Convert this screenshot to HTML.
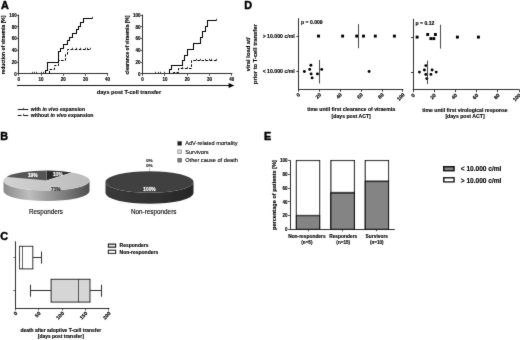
<!DOCTYPE html>
<html><head><meta charset="utf-8"><title>figure</title>
<style>
html,body{margin:0;padding:0;background:#fff;}
body{width:520px;height:340px;overflow:hidden;}
svg{display:block;font-family:"Liberation Sans",sans-serif;}
.b{font-weight:bold;}
</style></head><body>
<svg width="520" height="340" viewBox="0 0 520 340">
<defs>
<filter id="bl" x="-5%" y="-5%" width="110%" height="110%"><feConvolveMatrix order="3" kernelMatrix="0.015 0.060 0.015 0.060 0.700 0.060 0.015 0.060 0.015" divisor="1" edgeMode="duplicate" preserveAlpha="false"/></filter>
<linearGradient id="g1" x1="0" x2="1" y1="0" y2="0"><stop offset="0" stop-color="#8a8a8a"/><stop offset="0.3" stop-color="#bebebe"/><stop offset="0.6" stop-color="#8e8e8e"/><stop offset="0.85" stop-color="#666"/><stop offset="1" stop-color="#4e4e4e"/></linearGradient>
<linearGradient id="g3" x1="0" x2="1" y1="0" y2="0"><stop offset="0" stop-color="#d2d2d2"/><stop offset="1" stop-color="#bcbcbc"/></linearGradient>
<linearGradient id="g2" x1="0" x2="1" y1="0" y2="0"><stop offset="0" stop-color="#3a3a3a"/><stop offset="0.5" stop-color="#333"/><stop offset="1" stop-color="#262626"/></linearGradient>
</defs>
<rect width="520" height="340" fill="#fff"/>
<g filter="url(#bl)">

<text x="0.9" y="8.9" font-size="10.8" text-anchor="start" font-weight="bold" stroke="#000" stroke-width="0.45" fill="#000" >A</text>
<line x1="18.50" y1="14.60" x2="18.50" y2="74.30" stroke="#1c1c1c" stroke-width="0.9" />
<line x1="18.40" y1="73.50" x2="108.10" y2="73.50" stroke="#1c1c1c" stroke-width="0.9" />
<line x1="16.80" y1="73.50" x2="18.80" y2="73.50" stroke="#1c1c1c" stroke-width="0.7" />
<text x="16.8" y="75.60000000000001" font-size="4.5" text-anchor="end" font-weight="bold" stroke="#000" stroke-width="0.13" fill="#000" >0</text>
<line x1="16.80" y1="62.50" x2="18.80" y2="62.50" stroke="#1c1c1c" stroke-width="0.7" />
<text x="16.8" y="63.84000000000001" font-size="4.5" text-anchor="end" font-weight="bold" stroke="#000" stroke-width="0.13" fill="#000" >20</text>
<line x1="16.80" y1="50.50" x2="18.80" y2="50.50" stroke="#1c1c1c" stroke-width="0.7" />
<text x="16.8" y="52.08000000000001" font-size="4.5" text-anchor="end" font-weight="bold" stroke="#000" stroke-width="0.13" fill="#000" >40</text>
<line x1="16.80" y1="38.50" x2="18.80" y2="38.50" stroke="#1c1c1c" stroke-width="0.7" />
<text x="16.8" y="40.32000000000001" font-size="4.5" text-anchor="end" font-weight="bold" stroke="#000" stroke-width="0.13" fill="#000" >60</text>
<line x1="16.80" y1="26.50" x2="18.80" y2="26.50" stroke="#1c1c1c" stroke-width="0.7" />
<text x="16.8" y="28.560000000000006" font-size="4.5" text-anchor="end" font-weight="bold" stroke="#000" stroke-width="0.13" fill="#000" >80</text>
<line x1="16.80" y1="15.50" x2="18.80" y2="15.50" stroke="#1c1c1c" stroke-width="0.7" />
<text x="16.8" y="16.800000000000008" font-size="4.5" text-anchor="end" font-weight="bold" stroke="#000" stroke-width="0.13" fill="#000" >100</text>
<line x1="18.50" y1="73.90" x2="18.50" y2="75.90" stroke="#1c1c1c" stroke-width="0.7" />
<text x="18.8" y="80.9" font-size="4.5" text-anchor="middle" font-weight="bold" stroke="#000" stroke-width="0.13" fill="#000" >0</text>
<line x1="41.50" y1="73.90" x2="41.50" y2="75.90" stroke="#1c1c1c" stroke-width="0.7" />
<text x="41.0" y="80.9" font-size="4.5" text-anchor="middle" font-weight="bold" stroke="#000" stroke-width="0.13" fill="#000" >10</text>
<line x1="63.50" y1="73.90" x2="63.50" y2="75.90" stroke="#1c1c1c" stroke-width="0.7" />
<text x="63.2" y="80.9" font-size="4.5" text-anchor="middle" font-weight="bold" stroke="#000" stroke-width="0.13" fill="#000" >20</text>
<line x1="85.50" y1="73.90" x2="85.50" y2="75.90" stroke="#1c1c1c" stroke-width="0.7" />
<text x="85.4" y="80.9" font-size="4.5" text-anchor="middle" font-weight="bold" stroke="#000" stroke-width="0.13" fill="#000" >30</text>
<line x1="107.50" y1="73.90" x2="107.50" y2="75.90" stroke="#1c1c1c" stroke-width="0.7" />
<text x="107.60000000000001" y="80.9" font-size="4.5" text-anchor="middle" font-weight="bold" stroke="#000" stroke-width="0.13" fill="#000" >40</text>
<text x="4.9" y="45" font-size="4.92" text-anchor="middle" font-weight="bold" stroke="#000" stroke-width="0.13" transform="rotate(-90 4.9 45)" fill="#000" >reduction of viraemia [%]</text>
<path d="M49.50,73.50 H49.50 V69.50 H54.50 V65.50 H58.50 V60.50 H65.50 V54.50 H67.50 V49.50 H90.50 V49.50" fill="none" stroke="#000" stroke-width="1.0" stroke-dasharray="2.6 1.5"/>
<path d="M45.50,73.50 H45.50 V70.50 H47.50 V62.50 H58.50 V51.50 H60.50 V48.50 H63.50 V44.50 H67.50 V40.50 H69.50 V37.50 H72.50 V33.50 H76.50 V29.50 H78.50 V26.50 H80.50 V22.50 H83.50 V18.50 H92.50 V18.50" fill="none" stroke="#000" stroke-width="1.05"/>
<line x1="32.50" y1="71.80" x2="32.50" y2="73.50" stroke="#1c1c1c" stroke-width="0.8" />
<line x1="34.50" y1="71.80" x2="34.50" y2="73.50" stroke="#1c1c1c" stroke-width="0.8" />
<line x1="36.50" y1="71.80" x2="36.50" y2="73.50" stroke="#1c1c1c" stroke-width="0.8" />
<line x1="41.50" y1="71.80" x2="41.50" y2="73.50" stroke="#1c1c1c" stroke-width="0.8" />
<line x1="43.50" y1="71.80" x2="43.50" y2="73.50" stroke="#1c1c1c" stroke-width="0.8" />
<line x1="92.50" y1="16.80" x2="92.50" y2="18.50" stroke="#1c1c1c" stroke-width="0.8" />
<line x1="72.50" y1="47.80" x2="72.50" y2="49.50" stroke="#1c1c1c" stroke-width="0.8" />
<line x1="76.50" y1="47.80" x2="76.50" y2="49.50" stroke="#1c1c1c" stroke-width="0.8" />
<line x1="80.50" y1="47.80" x2="80.50" y2="49.50" stroke="#1c1c1c" stroke-width="0.8" />
<line x1="85.50" y1="47.80" x2="85.50" y2="49.50" stroke="#1c1c1c" stroke-width="0.8" />
<line x1="87.50" y1="47.80" x2="87.50" y2="49.50" stroke="#1c1c1c" stroke-width="0.8" />
<line x1="90.50" y1="47.80" x2="90.50" y2="49.50" stroke="#1c1c1c" stroke-width="0.8" />
<line x1="142.50" y1="14.60" x2="142.50" y2="74.30" stroke="#1c1c1c" stroke-width="0.9" />
<line x1="142.20" y1="73.50" x2="232.30" y2="73.50" stroke="#1c1c1c" stroke-width="0.9" />
<line x1="140.60" y1="73.50" x2="142.60" y2="73.50" stroke="#1c1c1c" stroke-width="0.7" />
<text x="140.6" y="75.60000000000001" font-size="4.5" text-anchor="end" font-weight="bold" stroke="#000" stroke-width="0.13" fill="#000" >0</text>
<line x1="140.60" y1="62.50" x2="142.60" y2="62.50" stroke="#1c1c1c" stroke-width="0.7" />
<text x="140.6" y="63.84000000000001" font-size="4.5" text-anchor="end" font-weight="bold" stroke="#000" stroke-width="0.13" fill="#000" >20</text>
<line x1="140.60" y1="50.50" x2="142.60" y2="50.50" stroke="#1c1c1c" stroke-width="0.7" />
<text x="140.6" y="52.08000000000001" font-size="4.5" text-anchor="end" font-weight="bold" stroke="#000" stroke-width="0.13" fill="#000" >40</text>
<line x1="140.60" y1="38.50" x2="142.60" y2="38.50" stroke="#1c1c1c" stroke-width="0.7" />
<text x="140.6" y="40.32000000000001" font-size="4.5" text-anchor="end" font-weight="bold" stroke="#000" stroke-width="0.13" fill="#000" >60</text>
<line x1="140.60" y1="26.50" x2="142.60" y2="26.50" stroke="#1c1c1c" stroke-width="0.7" />
<text x="140.6" y="28.560000000000006" font-size="4.5" text-anchor="end" font-weight="bold" stroke="#000" stroke-width="0.13" fill="#000" >80</text>
<line x1="140.60" y1="15.50" x2="142.60" y2="15.50" stroke="#1c1c1c" stroke-width="0.7" />
<text x="140.6" y="16.800000000000008" font-size="4.5" text-anchor="end" font-weight="bold" stroke="#000" stroke-width="0.13" fill="#000" >100</text>
<line x1="142.50" y1="73.90" x2="142.50" y2="75.90" stroke="#1c1c1c" stroke-width="0.7" />
<text x="142.6" y="80.9" font-size="4.5" text-anchor="middle" font-weight="bold" stroke="#000" stroke-width="0.13" fill="#000" >0</text>
<line x1="164.50" y1="73.90" x2="164.50" y2="75.90" stroke="#1c1c1c" stroke-width="0.7" />
<text x="164.9" y="80.9" font-size="4.5" text-anchor="middle" font-weight="bold" stroke="#000" stroke-width="0.13" fill="#000" >10</text>
<line x1="187.50" y1="73.90" x2="187.50" y2="75.90" stroke="#1c1c1c" stroke-width="0.7" />
<text x="187.2" y="80.9" font-size="4.5" text-anchor="middle" font-weight="bold" stroke="#000" stroke-width="0.13" fill="#000" >20</text>
<line x1="209.50" y1="73.90" x2="209.50" y2="75.90" stroke="#1c1c1c" stroke-width="0.7" />
<text x="209.5" y="80.9" font-size="4.5" text-anchor="middle" font-weight="bold" stroke="#000" stroke-width="0.13" fill="#000" >30</text>
<line x1="231.50" y1="73.90" x2="231.50" y2="75.90" stroke="#1c1c1c" stroke-width="0.7" />
<text x="231.8" y="80.9" font-size="4.5" text-anchor="middle" font-weight="bold" stroke="#000" stroke-width="0.13" fill="#000" >40</text>
<text x="128.5" y="45" font-size="4.92" text-anchor="middle" font-weight="bold" stroke="#000" stroke-width="0.13" transform="rotate(-90 128.5 45)" fill="#000" >clearance of viraemia [%]</text>
<path d="M173.50,73.50 H173.50 V72.50 H178.50 V68.50 H191.50 V60.50 H216.50 V60.50" fill="none" stroke="#000" stroke-width="1.0" stroke-dasharray="2.6 1.5"/>
<path d="M169.50,73.50 H169.50 V69.50 H171.50 V65.50 H182.50 V60.50 H184.50 V55.50 H187.50 V49.50 H193.50 V43.50 H200.50 V37.50 H202.50 V31.50 H205.50 V26.50 H207.50 V20.50 H216.50 V20.50" fill="none" stroke="#000" stroke-width="1.05"/>
<line x1="155.50" y1="71.80" x2="155.50" y2="73.50" stroke="#1c1c1c" stroke-width="0.8" />
<line x1="158.50" y1="71.80" x2="158.50" y2="73.50" stroke="#1c1c1c" stroke-width="0.8" />
<line x1="160.50" y1="71.80" x2="160.50" y2="73.50" stroke="#1c1c1c" stroke-width="0.8" />
<line x1="164.50" y1="71.80" x2="164.50" y2="73.50" stroke="#1c1c1c" stroke-width="0.8" />
<line x1="216.50" y1="18.80" x2="216.50" y2="20.50" stroke="#1c1c1c" stroke-width="0.8" />
<line x1="182.50" y1="66.80" x2="182.50" y2="68.50" stroke="#1c1c1c" stroke-width="0.8" />
<line x1="187.50" y1="66.80" x2="187.50" y2="68.50" stroke="#1c1c1c" stroke-width="0.8" />
<line x1="196.50" y1="58.80" x2="196.50" y2="60.50" stroke="#1c1c1c" stroke-width="0.8" />
<line x1="200.50" y1="58.80" x2="200.50" y2="60.50" stroke="#1c1c1c" stroke-width="0.8" />
<line x1="205.50" y1="58.80" x2="205.50" y2="60.50" stroke="#1c1c1c" stroke-width="0.8" />
<line x1="209.50" y1="58.80" x2="209.50" y2="60.50" stroke="#1c1c1c" stroke-width="0.8" />
<line x1="211.50" y1="58.80" x2="211.50" y2="60.50" stroke="#1c1c1c" stroke-width="0.8" />
<line x1="216.50" y1="58.80" x2="216.50" y2="60.50" stroke="#1c1c1c" stroke-width="0.8" />
<line x1="17.00" y1="85.50" x2="230.00" y2="85.50" stroke="#1c1c1c" stroke-width="1.0" />
<path d="M228.6,83.1 L234.3,85.5 L228.6,87.9 Z" fill="#000"/>
<text x="129" y="94.2" font-size="5.6" text-anchor="middle" font-weight="bold" stroke="#000" stroke-width="0.13" fill="#000" >days post T-cell transfer</text>
<line x1="17.70" y1="109.50" x2="28.30" y2="109.50" stroke="#1c1c1c" stroke-width="1.0" />
<line x1="23.50" y1="107.90" x2="23.50" y2="109.50" stroke="#1c1c1c" stroke-width="0.7" />
<line x1="17.70" y1="115.50" x2="21.60" y2="115.50" stroke="#1c1c1c" stroke-width="1.0" />
<line x1="23.30" y1="115.50" x2="28.30" y2="115.50" stroke="#1c1c1c" stroke-width="1.0" />
<line x1="23.50" y1="113.80" x2="23.50" y2="115.40" stroke="#1c1c1c" stroke-width="0.7" />
<text x="30.8" y="111.1" font-size="5.08" text-anchor="start" font-weight="bold" stroke="#000" stroke-width="0.13" fill="#000" >with <tspan font-style="italic">in vivo</tspan> expansion</text>
<text x="30.8" y="117.0" font-size="5.14" text-anchor="start" font-weight="bold" stroke="#000" stroke-width="0.13" fill="#000" >without <tspan font-style="italic">in vivo</tspan> expansion</text>
<text x="0.2" y="139.8" font-size="10.8" text-anchor="start" font-weight="bold" stroke="#000" stroke-width="0.45" fill="#000" >B</text>
<path d="M3.5,180.6 A43,10 0 0 0 89.5,180.6 V191.1 A43,10 0 0 1 3.5,191.1 Z" fill="url(#g1)"/>
<path d="M46.5,180.6 L46.50,170.60 A43,10 0 0 1 71.77,172.51 Z" fill="#2a2a2a"/>
<path d="M46.5,180.6 L71.77,172.51 A43,10 0 1 1 6.52,176.92 Z" fill="url(#g3)"/>
<path d="M46.5,180.6 L6.52,176.92 A43,10 0 0 1 46.50,170.60 Z" fill="#555"/>
<text x="57.7" y="175.5" font-size="4.8" text-anchor="middle" font-weight="bold" stroke="#fff" stroke-width="0.13" fill="#fff" >10%</text>
<text x="32.7" y="176.7" font-size="4.8" text-anchor="middle" font-weight="bold" stroke="#fff" stroke-width="0.13" fill="#fff" >19%</text>
<text x="55.8" y="190.5" font-size="4.8" text-anchor="middle" font-weight="bold" stroke="#222" stroke-width="0.13" fill="#222" >71%</text>
<path d="M105.5,182 A44,10.8 0 0 0 193.5,182 V193 A44,10.8 0 0 1 105.5,193 Z" fill="url(#g2)"/>
<ellipse cx="149.5" cy="182" rx="44" ry="10.8" fill="#404040"/>
<text x="149.5" y="190.5" font-size="4.8" text-anchor="middle" font-weight="bold" stroke="#fff" stroke-width="0.13" fill="#fff" >100%</text>
<text x="149.5" y="162.2" font-size="4.4" text-anchor="middle" font-weight="bold" stroke="#222" stroke-width="0.13" fill="#222" >0%</text>
<text x="149.5" y="167.4" font-size="4.4" text-anchor="middle" font-weight="bold" stroke="#222" stroke-width="0.13" fill="#222" >0%</text>
<line x1="149.50" y1="167.80" x2="149.50" y2="171.50" stroke="#666" stroke-width="0.4" />
<text x="46" y="214" font-size="6.3" text-anchor="middle" stroke="#000" stroke-width="0.12" fill="#000" >Responders</text>
<text x="153.7" y="214" font-size="6.35" text-anchor="middle" stroke="#000" stroke-width="0.12" fill="#000" >Non-responders</text>
<rect x="177.8" y="141.50" width="3.8" height="3.8" fill="#1e1e1e" stroke="#333" stroke-width="0.4"/>
<text x="185.2" y="145.3" font-size="5.65" text-anchor="start" stroke="#000" stroke-width="0.12" fill="#000" >AdV-related mortality</text>
<rect x="177.8" y="149.90" width="3.8" height="3.8" fill="#d4d4d4" stroke="#333" stroke-width="0.4"/>
<text x="185.2" y="153.70000000000002" font-size="5.65" text-anchor="start" stroke="#000" stroke-width="0.12" fill="#000" >Survivors</text>
<rect x="177.8" y="158.30" width="3.8" height="3.8" fill="#777" stroke="#333" stroke-width="0.4"/>
<text x="185.2" y="162.10000000000002" font-size="5.65" text-anchor="start" stroke="#000" stroke-width="0.12" fill="#000" >Other cause of death</text>
<text x="0.3" y="239.5" font-size="10.8" text-anchor="start" font-weight="bold" stroke="#000" stroke-width="0.45" fill="#000" >C</text>
<line x1="15.50" y1="241.30" x2="15.50" y2="308.40" stroke="#1c1c1c" stroke-width="0.9" />
<line x1="15.25" y1="308.50" x2="109.35" y2="308.50" stroke="#1c1c1c" stroke-width="0.9" />
<line x1="13.45" y1="257.50" x2="15.65" y2="257.50" stroke="#1c1c1c" stroke-width="0.7" />
<line x1="13.45" y1="290.50" x2="15.65" y2="290.50" stroke="#1c1c1c" stroke-width="0.7" />
<line x1="15.50" y1="308.00" x2="15.50" y2="310.40" stroke="#1c1c1c" stroke-width="0.7" />
<text x="17.85" y="313.8" font-size="5.2" text-anchor="end" font-weight="bold" stroke="#000" stroke-width="0.13" transform="rotate(-45 17.85 313.8)" fill="#000" >0</text>
<line x1="38.50" y1="308.00" x2="38.50" y2="310.40" stroke="#1c1c1c" stroke-width="0.7" />
<text x="41.150000000000006" y="313.8" font-size="5.2" text-anchor="end" font-weight="bold" stroke="#000" stroke-width="0.13" transform="rotate(-45 41.150000000000006 313.8)" fill="#000" >50</text>
<line x1="62.50" y1="308.00" x2="62.50" y2="310.40" stroke="#1c1c1c" stroke-width="0.7" />
<text x="64.45" y="313.8" font-size="5.2" text-anchor="end" font-weight="bold" stroke="#000" stroke-width="0.13" transform="rotate(-45 64.45 313.8)" fill="#000" >100</text>
<line x1="85.50" y1="308.00" x2="85.50" y2="310.40" stroke="#1c1c1c" stroke-width="0.7" />
<text x="87.75000000000001" y="313.8" font-size="5.2" text-anchor="end" font-weight="bold" stroke="#000" stroke-width="0.13" transform="rotate(-45 87.75000000000001 313.8)" fill="#000" >150</text>
<line x1="108.50" y1="308.00" x2="108.50" y2="310.40" stroke="#1c1c1c" stroke-width="0.7" />
<text x="111.05000000000001" y="313.8" font-size="5.2" text-anchor="end" font-weight="bold" stroke="#000" stroke-width="0.13" transform="rotate(-45 111.05000000000001 313.8)" fill="#000" >200</text>
<rect x="19.6" y="246.3" width="13.2" height="22.6" fill="#fff" stroke="#000" stroke-width="0.9"/>
<line x1="22.50" y1="246.30" x2="22.50" y2="268.90" stroke="#1c1c1c" stroke-width="0.9" />
<line x1="32.80" y1="257.50" x2="41.30" y2="257.50" stroke="#1c1c1c" stroke-width="0.9" />
<line x1="41.50" y1="251.50" x2="41.50" y2="263.70" stroke="#1c1c1c" stroke-width="0.9" />
<line x1="19.50" y1="252.50" x2="19.50" y2="262.50" stroke="#1c1c1c" stroke-width="1.0" />
<rect x="51.1" y="279.3" width="38.9" height="22.8" fill="#d6d6d6" stroke="#000" stroke-width="0.9"/>
<line x1="78.50" y1="279.30" x2="78.50" y2="302.10" stroke="#1c1c1c" stroke-width="0.9" />
<line x1="30.40" y1="290.50" x2="51.10" y2="290.50" stroke="#1c1c1c" stroke-width="0.9" />
<line x1="30.50" y1="284.70" x2="30.50" y2="296.70" stroke="#1c1c1c" stroke-width="0.9" />
<line x1="90.00" y1="290.50" x2="101.30" y2="290.50" stroke="#1c1c1c" stroke-width="0.9" />
<line x1="101.50" y1="284.70" x2="101.50" y2="296.70" stroke="#1c1c1c" stroke-width="0.9" />
<rect x="108.4" y="244.1" width="7.2" height="3.1" fill="#dcdcdc" stroke="#000" stroke-width="1.1"/>
<rect x="108.4" y="250.3" width="7.2" height="3.1" fill="#fff" stroke="#000" stroke-width="1.1"/>
<text x="119.6" y="247.4" font-size="5.0" text-anchor="start" font-weight="bold" stroke="#000" stroke-width="0.13" fill="#000" >Responders</text>
<text x="119.6" y="253.9" font-size="5.0" text-anchor="start" font-weight="bold" stroke="#000" stroke-width="0.13" fill="#000" >Non-responders</text>
<text x="60.8" y="331.6" font-size="4.95" text-anchor="middle" font-weight="bold" stroke="#000" stroke-width="0.13" fill="#000" >death after adoptive T-cell transfer</text>
<text x="60.8" y="337.6" font-size="4.95" text-anchor="middle" font-weight="bold" stroke="#000" stroke-width="0.13" fill="#000" >[days post transfer]</text>
<text x="244.3" y="8.9" font-size="10.8" text-anchor="start" font-weight="bold" stroke="#000" stroke-width="0.45" fill="#000" >D</text>
<text x="250.4" y="54.3" font-size="5.8" text-anchor="middle" font-weight="bold" stroke="#000" stroke-width="0.13" transform="rotate(-90 250.4 54.3)" fill="#000" >viral load at/</text>
<text x="257.2" y="54.2" font-size="5.8" text-anchor="middle" font-weight="bold" stroke="#000" stroke-width="0.13" transform="rotate(-90 257.2 54.2)" fill="#000" >prior to T-cell transfer</text>
<line x1="298.50" y1="18.20" x2="298.50" y2="89.50" stroke="#1c1c1c" stroke-width="0.9" />
<line x1="298.00" y1="89.50" x2="403.40" y2="89.50" stroke="#1c1c1c" stroke-width="0.9" />
<line x1="296.40" y1="36.50" x2="298.40" y2="36.50" stroke="#1c1c1c" stroke-width="0.9" />
<line x1="296.40" y1="71.50" x2="298.40" y2="71.50" stroke="#1c1c1c" stroke-width="0.9" />
<line x1="298.50" y1="89.10" x2="298.50" y2="91.70" stroke="#1c1c1c" stroke-width="0.85" />
<text x="300.59999999999997" y="95.1" font-size="5.2" text-anchor="end" font-weight="bold" stroke="#000" stroke-width="0.13" transform="rotate(-45 300.59999999999997 95.1)" fill="#000" >0</text>
<line x1="319.50" y1="89.10" x2="319.50" y2="91.70" stroke="#1c1c1c" stroke-width="0.85" />
<text x="321.49999999999994" y="95.1" font-size="5.2" text-anchor="end" font-weight="bold" stroke="#000" stroke-width="0.13" transform="rotate(-45 321.49999999999994 95.1)" fill="#000" >20</text>
<line x1="340.50" y1="89.10" x2="340.50" y2="91.70" stroke="#1c1c1c" stroke-width="0.85" />
<text x="342.4" y="95.1" font-size="5.2" text-anchor="end" font-weight="bold" stroke="#000" stroke-width="0.13" transform="rotate(-45 342.4 95.1)" fill="#000" >40</text>
<line x1="361.50" y1="89.10" x2="361.50" y2="91.70" stroke="#1c1c1c" stroke-width="0.85" />
<text x="363.29999999999995" y="95.1" font-size="5.2" text-anchor="end" font-weight="bold" stroke="#000" stroke-width="0.13" transform="rotate(-45 363.29999999999995 95.1)" fill="#000" >60</text>
<line x1="382.50" y1="89.10" x2="382.50" y2="91.70" stroke="#1c1c1c" stroke-width="0.85" />
<text x="384.2" y="95.1" font-size="5.2" text-anchor="end" font-weight="bold" stroke="#000" stroke-width="0.13" transform="rotate(-45 384.2 95.1)" fill="#000" >80</text>
<line x1="402.50" y1="89.10" x2="402.50" y2="91.70" stroke="#1c1c1c" stroke-width="0.85" />
<text x="405.09999999999997" y="95.1" font-size="5.2" text-anchor="end" font-weight="bold" stroke="#000" stroke-width="0.13" transform="rotate(-45 405.09999999999997 95.1)" fill="#000" >100</text>
<rect x="317.05" y="34.65" width="2.9" height="2.9" fill="#000"/>
<rect x="341.15" y="34.65" width="2.9" height="2.9" fill="#000"/>
<rect x="355.25" y="34.65" width="2.9" height="2.9" fill="#000"/>
<rect x="362.05" y="34.65" width="2.9" height="2.9" fill="#000"/>
<rect x="373.85" y="34.65" width="2.9" height="2.9" fill="#000"/>
<rect x="392.95" y="34.65" width="2.9" height="2.9" fill="#000"/>
<circle cx="304.40" cy="71.50" r="1.45" fill="#000"/>
<circle cx="310.90" cy="65.30" r="1.45" fill="#000"/>
<circle cx="309.70" cy="69.40" r="1.45" fill="#000"/>
<circle cx="311.10" cy="73.90" r="1.45" fill="#000"/>
<circle cx="312.10" cy="77.90" r="1.45" fill="#000"/>
<circle cx="317.40" cy="73.90" r="1.45" fill="#000"/>
<circle cx="321.70" cy="69.40" r="1.45" fill="#000"/>
<circle cx="369.10" cy="71.50" r="1.45" fill="#000"/>
<line x1="358.50" y1="24.10" x2="358.50" y2="48.20" stroke="#1c1c1c" stroke-width="0.8" />
<line x1="319.50" y1="60.00" x2="319.50" y2="83.50" stroke="#1c1c1c" stroke-width="0.8" />
<text x="301.0" y="23.5" font-size="5.1" text-anchor="start" font-weight="bold" stroke="#000" stroke-width="0.13" fill="#000" >p = 0.009</text>
<text x="351.2" y="111" font-size="5.15" text-anchor="middle" font-weight="bold" stroke="#000" stroke-width="0.13" fill="#000" >time until first clearance of viraemia</text>
<text x="351.2" y="117.6" font-size="5.15" text-anchor="middle" font-weight="bold" stroke="#000" stroke-width="0.13" fill="#000" >[days post ACT]</text>
<text x="294.8" y="37.9" font-size="5.2" text-anchor="end" font-weight="bold" stroke="#000" stroke-width="0.13" fill="#000" >&gt; 10.000 c/ml</text>
<text x="294.8" y="73.3" font-size="5.2" text-anchor="end" font-weight="bold" stroke="#000" stroke-width="0.13" fill="#000" >&lt; 10.000 c/ml</text>
<line x1="413.50" y1="18.80" x2="413.50" y2="90.00" stroke="#1c1c1c" stroke-width="0.9" />
<line x1="412.60" y1="89.50" x2="519.50" y2="89.50" stroke="#1c1c1c" stroke-width="0.9" />
<line x1="411.00" y1="37.50" x2="413.00" y2="37.50" stroke="#1c1c1c" stroke-width="0.9" />
<line x1="411.00" y1="72.50" x2="413.00" y2="72.50" stroke="#1c1c1c" stroke-width="0.9" />
<line x1="413.50" y1="89.60" x2="413.50" y2="92.20" stroke="#1c1c1c" stroke-width="0.85" />
<text x="415.2" y="95.6" font-size="5.2" text-anchor="end" font-weight="bold" stroke="#000" stroke-width="0.13" transform="rotate(-45 415.2 95.6)" fill="#000" >0</text>
<line x1="434.50" y1="89.60" x2="434.50" y2="92.20" stroke="#1c1c1c" stroke-width="0.85" />
<text x="436.4" y="95.6" font-size="5.2" text-anchor="end" font-weight="bold" stroke="#000" stroke-width="0.13" transform="rotate(-45 436.4 95.6)" fill="#000" >20</text>
<line x1="455.50" y1="89.60" x2="455.50" y2="92.20" stroke="#1c1c1c" stroke-width="0.85" />
<text x="457.59999999999997" y="95.6" font-size="5.2" text-anchor="end" font-weight="bold" stroke="#000" stroke-width="0.13" transform="rotate(-45 457.59999999999997 95.6)" fill="#000" >40</text>
<line x1="476.50" y1="89.60" x2="476.50" y2="92.20" stroke="#1c1c1c" stroke-width="0.85" />
<text x="478.8" y="95.6" font-size="5.2" text-anchor="end" font-weight="bold" stroke="#000" stroke-width="0.13" transform="rotate(-45 478.8 95.6)" fill="#000" >60</text>
<line x1="497.50" y1="89.60" x2="497.50" y2="92.20" stroke="#1c1c1c" stroke-width="0.85" />
<text x="500.0" y="95.6" font-size="5.2" text-anchor="end" font-weight="bold" stroke="#000" stroke-width="0.13" transform="rotate(-45 500.0 95.6)" fill="#000" >80</text>
<line x1="519.50" y1="89.60" x2="519.50" y2="92.20" stroke="#1c1c1c" stroke-width="0.85" />
<text x="521.2" y="95.6" font-size="5.2" text-anchor="end" font-weight="bold" stroke="#000" stroke-width="0.13" transform="rotate(-45 521.2 95.6)" fill="#000" >100</text>
<rect x="415.65" y="35.65" width="2.9" height="2.9" fill="#000"/>
<rect x="426.25" y="33.05" width="2.9" height="2.9" fill="#000"/>
<rect x="429.45" y="37.15" width="2.9" height="2.9" fill="#000"/>
<rect x="432.35" y="37.15" width="2.9" height="2.9" fill="#000"/>
<rect x="433.95" y="33.05" width="2.9" height="2.9" fill="#000"/>
<rect x="455.95" y="35.65" width="2.9" height="2.9" fill="#000"/>
<rect x="476.95" y="35.65" width="2.9" height="2.9" fill="#000"/>
<circle cx="419.40" cy="72.10" r="1.45" fill="#000"/>
<circle cx="424.40" cy="70.00" r="1.45" fill="#000"/>
<circle cx="425.80" cy="65.60" r="1.45" fill="#000"/>
<circle cx="425.80" cy="74.40" r="1.45" fill="#000"/>
<circle cx="426.80" cy="78.60" r="1.45" fill="#000"/>
<circle cx="430.90" cy="74.40" r="1.45" fill="#000"/>
<circle cx="432.10" cy="70.00" r="1.45" fill="#000"/>
<circle cx="436.20" cy="72.10" r="1.45" fill="#000"/>
<line x1="440.50" y1="24.70" x2="440.50" y2="48.60" stroke="#1c1c1c" stroke-width="0.8" />
<line x1="427.50" y1="60.60" x2="427.50" y2="84.10" stroke="#1c1c1c" stroke-width="0.8" />
<text x="415.6" y="24.7" font-size="5.1" text-anchor="start" font-weight="bold" stroke="#000" stroke-width="0.13" fill="#000" >p = 0.12</text>
<text x="465" y="111.6" font-size="5.15" text-anchor="middle" font-weight="bold" stroke="#000" stroke-width="0.13" fill="#000" >time until first virological response</text>
<text x="465" y="117.6" font-size="5.15" text-anchor="middle" font-weight="bold" stroke="#000" stroke-width="0.13" fill="#000" >[days post ACT]</text>
<text x="264.1" y="139.8" font-size="10.8" text-anchor="start" font-weight="bold" stroke="#000" stroke-width="0.45" fill="#000" >E</text>
<rect x="296.4" y="160.55" width="23.20" height="68.75" fill="#fff" stroke="#000" stroke-width="1.1"/>
<rect x="296.4" y="215.55" width="23.20" height="13.75" fill="#848484" stroke="#000" stroke-width="1.1"/>
<line x1="296.40" y1="215.50" x2="319.60" y2="215.50" stroke="#1c1c1c" stroke-width="1.3" />
<line x1="308.50" y1="229.30" x2="308.50" y2="231.30" stroke="#1c1c1c" stroke-width="0.7" />
<rect x="330.9" y="160.55" width="23.50" height="68.75" fill="#fff" stroke="#000" stroke-width="1.1"/>
<rect x="330.9" y="192.93" width="23.50" height="36.37" fill="#848484" stroke="#000" stroke-width="1.1"/>
<line x1="330.90" y1="192.50" x2="354.40" y2="192.50" stroke="#1c1c1c" stroke-width="1.3" />
<line x1="342.50" y1="229.30" x2="342.50" y2="231.30" stroke="#1c1c1c" stroke-width="0.7" />
<rect x="365.3" y="160.55" width="23.20" height="68.75" fill="#fff" stroke="#000" stroke-width="1.1"/>
<rect x="365.3" y="181.18" width="23.20" height="48.12" fill="#848484" stroke="#000" stroke-width="1.1"/>
<line x1="365.30" y1="181.50" x2="388.50" y2="181.50" stroke="#1c1c1c" stroke-width="1.3" />
<line x1="376.50" y1="229.30" x2="376.50" y2="231.30" stroke="#1c1c1c" stroke-width="0.7" />
<line x1="290.50" y1="160.15" x2="290.50" y2="229.70" stroke="#1c1c1c" stroke-width="0.9" />
<line x1="290.00" y1="229.50" x2="394.80" y2="229.50" stroke="#1c1c1c" stroke-width="0.9" />
<line x1="288.00" y1="229.50" x2="290.40" y2="229.50" stroke="#1c1c1c" stroke-width="0.7" />
<text x="287.5" y="231.0" font-size="4.5" text-anchor="end" font-weight="bold" stroke="#000" stroke-width="0.13" fill="#000" >0</text>
<line x1="288.00" y1="215.50" x2="290.40" y2="215.50" stroke="#1c1c1c" stroke-width="0.7" />
<text x="287.5" y="217.25" font-size="4.5" text-anchor="end" font-weight="bold" stroke="#000" stroke-width="0.13" fill="#000" >20</text>
<line x1="288.00" y1="201.50" x2="290.40" y2="201.50" stroke="#1c1c1c" stroke-width="0.7" />
<text x="287.5" y="203.5" font-size="4.5" text-anchor="end" font-weight="bold" stroke="#000" stroke-width="0.13" fill="#000" >40</text>
<line x1="288.00" y1="188.50" x2="290.40" y2="188.50" stroke="#1c1c1c" stroke-width="0.7" />
<text x="287.5" y="189.75" font-size="4.5" text-anchor="end" font-weight="bold" stroke="#000" stroke-width="0.13" fill="#000" >60</text>
<line x1="288.00" y1="174.50" x2="290.40" y2="174.50" stroke="#1c1c1c" stroke-width="0.7" />
<text x="287.5" y="176.0" font-size="4.5" text-anchor="end" font-weight="bold" stroke="#000" stroke-width="0.13" fill="#000" >80</text>
<line x1="288.00" y1="160.50" x2="290.40" y2="160.50" stroke="#1c1c1c" stroke-width="0.7" />
<text x="287.5" y="162.25" font-size="4.5" text-anchor="end" font-weight="bold" stroke="#000" stroke-width="0.13" fill="#000" >100</text>
<text x="275.6" y="195" font-size="5.6" text-anchor="middle" font-weight="bold" stroke="#000" stroke-width="0.13" transform="rotate(-90 275.6 195)" fill="#000" >percentage of patients [%]</text>
<text x="306.9" y="238.3" font-size="4.86" text-anchor="middle" font-weight="bold" stroke="#000" stroke-width="0.13" fill="#000" >Non-responders</text>
<text x="306.9" y="244.3" font-size="4.6" text-anchor="middle" font-weight="bold" stroke="#000" stroke-width="0.13" fill="#000" >(n=5)</text>
<text x="343.2" y="238.3" font-size="4.86" text-anchor="middle" font-weight="bold" stroke="#000" stroke-width="0.13" fill="#000" >Responders</text>
<text x="343.2" y="244.3" font-size="4.6" text-anchor="middle" font-weight="bold" stroke="#000" stroke-width="0.13" fill="#000" >(n=15)</text>
<text x="376.8" y="238.3" font-size="4.86" text-anchor="middle" font-weight="bold" stroke="#000" stroke-width="0.13" fill="#000" >Survivors</text>
<text x="376.8" y="244.3" font-size="4.6" text-anchor="middle" font-weight="bold" stroke="#000" stroke-width="0.13" fill="#000" >(n=10)</text>
<rect x="443.8" y="166.7" width="10.2" height="4.0" fill="#828282" stroke="#000" stroke-width="1.4"/>
<rect x="443.8" y="177.8" width="10.2" height="4.0" fill="#fff" stroke="#000" stroke-width="1.4"/>
<text x="460.8" y="171.2" font-size="6.55" text-anchor="start" font-weight="bold" stroke="#000" stroke-width="0.13" fill="#000" >&lt; 10.000 c/ml</text>
<text x="460.8" y="182.7" font-size="6.55" text-anchor="start" font-weight="bold" stroke="#000" stroke-width="0.13" fill="#000" >&gt; 10.000 c/ml</text>
</g></svg></body></html>
